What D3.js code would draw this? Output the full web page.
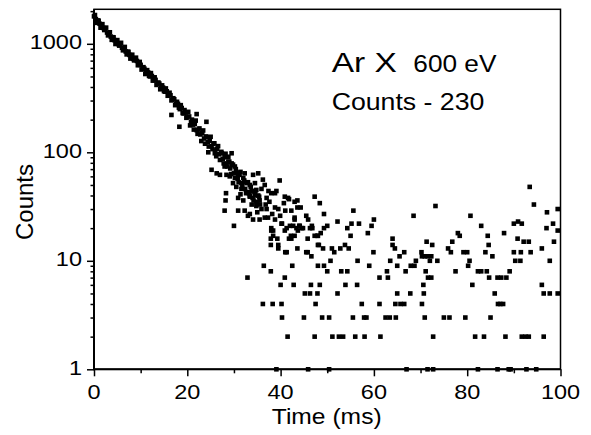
<!DOCTYPE html>
<html>
<head>
<meta charset="utf-8">
<script src="https://cdn.jsdelivr.net/npm/d3@7"></script>
<style>
  html, body { margin: 0; padding: 0; background: #fff; }
  svg { display: block; }
  text { font-family: "Liberation Sans", Arial, Helvetica, sans-serif; fill: #000; }
</style>
</head>
<body>
<svg id="chart" width="591" height="435"></svg>
<script>
// ---- data ----
const bandTime = [0,0.4,0.8,1.2,1.6,2.0,2.4,2.8,3.2,3.6,4.0,4.4,4.8,5.2,5.6,6.0,6.4,6.8,7.2,7.6,
  8.0,8.4,8.8,9.2,9.6,10.0,10.4,10.8,11.2,11.6,12.0,12.4,12.8,13.2,13.6,14.0,14.4,14.8,15.2,15.6,
  16.0,16.4,16.8,17.2,17.6,18.0,18.4,18.8,19.2,19.6,20.0,20.4,20.8,21.2,21.6,22.0,22.4,22.8,23.2,23.6,
  24.0,24.4,24.8,25.2,25.6,26.0,26.4,26.8,27.2,27.6,28.0,28.4,28.8,29.2,29.6,30.0,30.4,30.8,31.2,31.6,
  32.0,32.4,32.8,33.2,33.6,34.0,34.4,34.8,35.2,35.6];
const bandCounts = [1790,1690,1640,1530,1490,1400,1365,1270,1245,1165,1150,1080,1070,995,990,920,915,850,845,790,
  785,725,720,695,640,640,590,590,545,545,500,505,462,465,428,430,392,395,362,365,
  334,336,305,308,278,280,250,256,228,232,210,214,190,180,182,160,162,146,150,134,
  140,124,128,114,120,104,108,96,99,87,90,78,82,71,76,64,70,57,62,52,
  58,46,52,42,48,38,43,35,40,33];

const bandTime2 = [0.2,0.6,1.0,1.4,1.8,2.2,2.6,3.0,3.4,3.8,4.2,4.6,5.0,5.4,5.8,6.2,6.6,7.0,7.4,7.8,
  8.2,8.6,9.0,9.4,9.8,10.2,10.6,11.0,11.4,11.8,12.2,12.6,13.0,13.4,13.8,14.2,14.6,15.0,15.4,15.8,
  16.2,16.6,17.0,17.4,17.8,18.2,18.6,19.0,19.4,19.8,20.2,20.6,21.0,21.4,21.8,22.2,22.6,23.0,23.4,23.8,
  24.2,24.6,25.0,25.4,25.8,26.2,26.6,27.0,27.4,27.8,28.2,28.6,29.0,29.4,29.8,30.2,30.6,31.0,31.4,31.8,
  32.2,32.6,33.0,33.4,33.8,34.2,34.6,35.0,35.4];
const bandCounts2 = [1842,1560,1633,1408,1518,1340,1410,1196,1277,1088,1146,996,1082,962,1021,871,936,799,843,731,
  793,703,745,635,681,579,609,527,572,507,537,458,491,418,440,381,414,367,388,332,
  354,301,315,272,292,258,272,230,245,208,236,177,200,162,196,148,166,127,159,120,
  138,113,139,107,121,92,114,85,98,79,97,74,82,63,77,58,65,53,66,50,
  55,42,53,40,44,36,44,34,39];

// scattered points [time (ms), counts]
const cloudPoints = [
  [16.6,221],[18.3,172],[22.0,225],[24.1,191],[24.5,100],[25.2,69],[26.3,64],[27.0,62],[28.4,62],[29.1,60],
  [30.9,62],[32.3,64],[34.1,62],[35.2,64],[39.8,55],[32.3,53],[33.4,50],[34.5,52],[36.6,50],
  [30.5,48],[31.6,46],[33.0,43],[34.8,45],[35.9,46],
  [30.9,38],[32.0,36],[33.4,39],[34.5,40],[35.5,36],[37.0,38],[38.0,42],[39.1,44],
  [30.9,29],[32.3,29],[33.4,27],[34.8,32],[35.9,30],[37.0,30],[38.8,31],[39.5,30],
  [33.0,26],[34.1,24],[35.5,24],[36.6,25],[37.3,25],
  [38.8,24],[40.2,22],[40.9,19],[42.0,21],[43.0,24],[44.1,21],
  [38.0,19],[38.4,17],[39.3,16],[37.9,14],[39.5,13],[41.3,12],[42.3,16],[43.0,17],
  [45.8,12],[46.6,11],[43.7,19],[44.8,20],[45.5,26],[46.7,21],[47.3,17],
  [29.5,79],[30.2,74],[28.0,74],[28.8,91],[29.5,98],[25.9,98],[27.3,101],
  [40.9,39],[41.8,37],[43.0,35],[47.3,39],
  [28.3,42],[28.2,36],[28.0,29],[30.0,21],[32.9,7],[36.4,9],[37.9,8],
  [36.2,4],[38.3,4],[40.2,4],[40.3,3],[41.5,2],[40.0,6],[42.8,6],[40.9,7],[42.5,9],
  [45.2,5],[46.3,5],[47.9,5],[46.5,6],[45.0,3],[47.3,2],[47.5,4],
  [41.0,12],[39.5,14],[37.9,16],[38.4,19],[38.0,20],
  [43.6,13],[45.5,12],[45.8,16],[48.0,17],[48.0,14],
  [44.5,20],[44.0,21],[41.8,16],[42.2,17],[42.7,21],[43.4,20],
  [40.3,22],[41.3,20],[41.0,29],[42.3,29],[43.6,31],[43.0,25],[41.6,38],[43.6,36],[44.3,31],[40.7,34],
  [38.8,42],[46.3,20],[46.8,20],[45.9,24],
  [36.2,56],[37.4,44],[36.8,33],[38.2,27],[39.9,26],[37.6,35],[35.0,28],[33.8,33],[31.4,41],[29.8,52]
];
const tailPoints = [
  [48.4,34],[49.3,27],[47.9,17],[48.6,18],[49.3,20],[50.0,21],[48.2,14],[49.1,13],[48.0,9],[49.3,9],
  [50.0,8],[50.7,10],[48.4,6],[48.9,3],[50.4,3],
  [51.0,13],[51.5,12],[52.2,23],[52.8,13],[53.0,8],[54.3,8],[52.2,5],[51.1,2],[52.5,2],[53.4,2],
  [53.8,14],[54.6,13],[53.9,6],[54.3,20],[55.2,22],[55.0,17],[55.6,29],[55.5,3],[56.4,6],[56.5,10],
  [56.0,2],[56.8,22],[57.4,4],[57.9,3],[58.4,3],[58.0,2],[58.7,18],[59.5,21],[60.0,24],[59.0,9],
  [59.9,12],[61.2,7],[63.0,7],[61.2,4],[61.4,2],[62.8,8],[62.5,3],[63.4,3],[63.5,10],[64.0,16],
  [64.0,14],[64.5,13],[65.0,9],[64.7,3],[65.0,5],[64.6,4],[65.7,4],[66.5,4],[65.5,11],[66.5,12],
  [66.8,8],[67.8,5],[67.9,9],[68.7,9],[68.5,26],[69.0,10],[70.2,12],[70.3,11],[70.9,11],[71.5,11],
  [71.3,15],[72.5,14],[72.0,10],[72.3,11],[71.1,8],[71.6,7],[72.3,7],[70.6,6],[70.7,5],[70.3,4],
  [70.9,3],[72.7,2],[73.2,32],[73.6,10],
  [75.0,3],[76.2,3],[75.9,13],[76.5,12],[76.8,15],[78.0,18],[78.4,17],[77.5,8],[79.6,3],[79.2,12],
  [80.0,12],[80.5,10],[80.2,9],[80.7,26],[81.1,6],[81.7,2],[82.3,8],[83.0,8],[83.6,2],[83.0,21],
  [83.9,12],[84.4,17],[84.6,14],[84.2,8],[84.7,7],[85.0,3],[85.4,11],[85.9,5],[86.5,7],[87.3,7],
  [88.4,7],[86.6,4],[87.1,4],[87.7,4],[87.9,18],[88.2,2],[89.1,8],[90.0,22],[90.9,23],[91.7,22],
  [90.8,16],[90.0,12],[90.3,10],[91.4,10],[91.5,12],[92.1,15],[93.2,15],[91.7,2],[92.5,2],[93.2,2],
  [93.6,12],[93.4,48],[94.3,33],[96.0,13],[96.0,6],[96.4,5],[97.7,5],[99.4,5],[96.4,2],[97.1,28],
  [97.0,20],[97.7,10],[98.4,22],[98.6,15],[99.4,19],[99.4,30]
];
const singleCountTimes = [39.1,45.9,50.4,67.0,71.5,72.7,82.3,86.5,88.9,89.3,92.7,94.8];

const xMajorTicks = [0, 20, 40, 60, 80, 100];
const xMinorTicks = [10, 30, 50, 70, 90];
const yMajorTicks = [1, 10, 100, 1000];
const yMinorTicks = [2,3,4,5,6,7,8,9,20,30,40,50,60,70,80,90,200,300,400,500,600,700,800,900,2000];
const xTitle = "Time (ms)";
const yTitle = "Counts";

// ---- drawing ----
const svg = d3.select("#chart");
const L = 94, R = 560.5, T = 9.3, B = 369.3;
const x = d3.scaleLinear().domain([0, 100]).range([L, R]);
const y = d3.scaleLog().domain([1, 2080]).range([B, T]);

const allPoints = [];
bandTime.forEach((t, i) => allPoints.push([t, bandCounts[i]]));
bandTime2.forEach((t, i) => allPoints.push([t, bandCounts2[i]]));
cloudPoints.forEach(p => allPoints.push(p));
tailPoints.forEach(p => allPoints.push(p));
singleCountTimes.forEach(t => allPoints.push([t, 1]));

const ms = 4.6;
svg.append("g").selectAll("rect").data(allPoints).join("rect")
  .attr("x", d => x(d[0]) - ms / 2)
  .attr("y", d => y(d[1]) - ms / 2)
  .attr("width", ms).attr("height", ms)
  .attr("fill", "#000");

function styleAxis(g) {
  g.select(".domain").remove();
  g.selectAll(".tick line").attr("stroke", "#000").attr("stroke-width", 1.5);
  g.selectAll(".tick text").remove();
}
svg.append("g").attr("transform", `translate(0,${B})`)
  .call(d3.axisBottom(x).tickValues(xMajorTicks).tickSize(7)).call(styleAxis);
svg.append("g").attr("transform", `translate(0,${B})`)
  .call(d3.axisBottom(x).tickValues(xMinorTicks).tickSize(4)).call(styleAxis);
svg.append("g").attr("transform", `translate(${L},0)`)
  .call(d3.axisLeft(y).tickValues(yMajorTicks).tickSize(7)).call(styleAxis);
svg.append("g").attr("transform", `translate(${L},0)`)
  .call(d3.axisLeft(y).tickValues(yMinorTicks.filter(v => v <= 2080)).tickSize(3.5)).call(styleAxis);

svg.append("rect").attr("x", L).attr("y", T).attr("width", R - L).attr("height", B - T)
  .attr("fill", "none").attr("stroke", "#000").attr("stroke-width", 1.5);
svg.append("line").attr("x1", L).attr("x2", L).attr("y1", T).attr("y2", B + 0.75)
  .attr("stroke", "#000").attr("stroke-width", 2);
svg.append("line").attr("x1", L - 0.75).attr("x2", R).attr("y1", B).attr("y2", B)
  .attr("stroke", "#000").attr("stroke-width", 2);

svg.append("g").selectAll("text").data(xMajorTicks).join("text")
  .attr("transform", d => `translate(${x(d)},399.3) scale(1.12,1)`)
  .attr("text-anchor", "middle").attr("font-size", 21).text(d => d);
svg.append("g").selectAll("text").data(yMajorTicks).join("text")
  .attr("transform", d => `translate(82,${y(d) + 5.5}) scale(1.12,1)`)
  .attr("text-anchor", "end").attr("font-size", 21).text(d => d);

svg.append("text").attr("transform", "translate(326.7,424) scale(1.12,1)")
  .attr("text-anchor", "middle").attr("font-size", 22).text(xTitle);
svg.append("text").attr("transform", "translate(33,202) rotate(-90)")
  .attr("text-anchor", "middle").attr("font-size", 24).text(yTitle);

svg.append("text").attr("transform", "translate(331.7,71.7) scale(1.24,1)")
  .attr("font-size", 27).text("Ar X");
svg.append("text").attr("transform", "translate(413.3,71.7) scale(1.14,1)")
  .attr("font-size", 23).text("600 eV");
svg.append("text").attr("transform", "translate(331.7,110) scale(1.16,1)")
  .attr("font-size", 23).text("Counts - 230");
</script>
</body>
</html>
